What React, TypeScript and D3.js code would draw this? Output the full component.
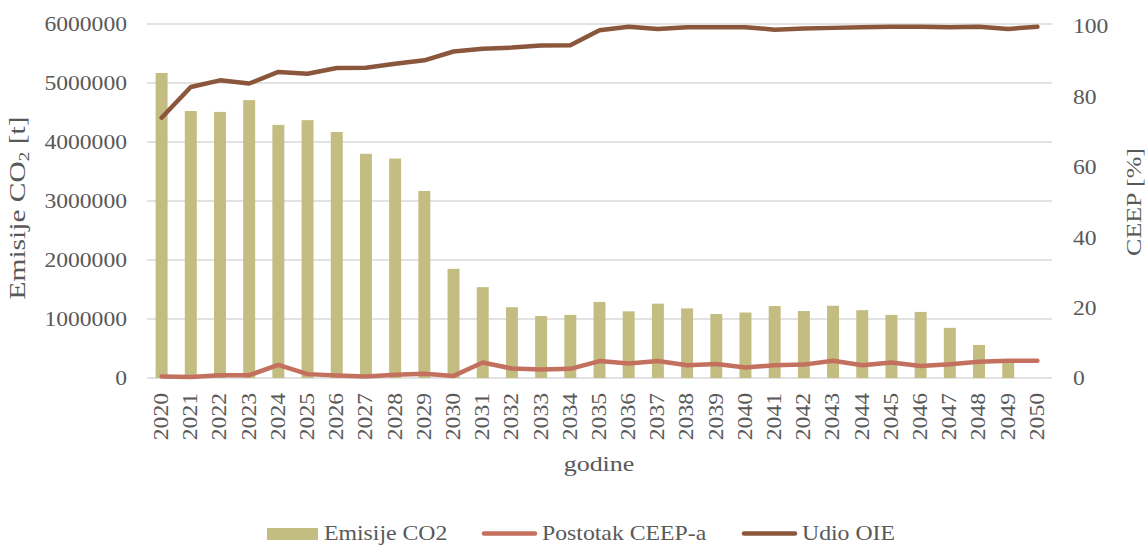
import React, { useRef, useEffect } from 'react';
import * as d3 from 'd3';

const years = d3.range(2020, 2051).map(String);

// Emisije CO2 [t]
const emissions = [
  5170000, 4525000, 4510000, 4710000, 4290000, 4370000, 4170000, 3800000, 3720000, 3170000,
  1850000, 1540000, 1200000, 1050000, 1070000, 1290000, 1130000, 1260000, 1180000, 1085000,
  1110000, 1220000, 1135000, 1225000, 1150000, 1070000, 1120000, 850000, 560000, 300000, 0,
];

// Postotak CEEP-a [%]
const ceep = [
  0.4, 0.3, 0.8, 0.8, 3.7, 1.1, 0.7, 0.4, 0.9, 1.2,
  0.6, 4.4, 2.7, 2.4, 2.6, 4.8, 4.1, 4.8, 3.6, 4.0,
  3.0, 3.6, 3.8, 4.9, 3.6, 4.4, 3.4, 3.9, 4.6, 4.9, 4.9,
];

// Udio OIE [%]
const oie = [
  73.9, 82.6, 84.5, 83.6, 86.9, 86.4, 88.0, 88.1, 89.2, 90.2,
  92.7, 93.5, 93.8, 94.4, 94.5, 98.7, 99.7, 99.1, 99.6, 99.6,
  99.6, 98.9, 99.2, 99.4, 99.6, 99.7, 99.7, 99.6, 99.7, 99.1, 99.7,
];

const leftTicks = [0, 1000000, 2000000, 3000000, 4000000, 5000000, 6000000];
const rightTicks = [0, 20, 40, 60, 80, 100];

const legendItems = [
  { label: 'Emisije CO2', kind: 'bar', color: '#c4bd82' },
  { label: 'Postotak CEEP-a', kind: 'line', color: '#c3705e' },
  { label: 'Udio OIE', kind: 'line', color: '#8b573c' },
];

const W = 1148;
const H = 546;
const SX = 1.18; // horizontal stretch of the serif text
const FONT = '"Liberation Serif", "Times New Roman", serif';
const TXT = '#595959';

export default function App() {
  const ref = useRef<SVGSVGElement>(null);

  useEffect(() => {
    if (!ref.current) return;
    draw(ref.current);
  }, []);

  return (
    <svg
      ref={ref}
      width={W}
      height={H}
      style={{ position: 'absolute', left: 0, top: 0, background: '#fff' }}
    />
  );
}

function draw(el: SVGSVGElement) {
  const svg = d3.select(el);
  svg.selectAll('*').remove();
  svg.attr('font-family', FONT);

  const left = 147, right = 1052, top = 24, bottom = 378;

  const x = d3.scaleBand().domain(years).range([left, right]).paddingInner(0.59).paddingOuter(0.295);
  const y = d3.scaleLinear().domain([0, 6000000]).range([bottom, top]);
  const y2 = d3.scaleLinear().domain([0, 100.5]).range([bottom, top]);
  const cx = (d: string) => x(d)! + x.bandwidth() / 2;

  // gridlines
  svg.append('g')
    .selectAll('line')
    .data(leftTicks)
    .join('line')
    .attr('x1', left)
    .attr('x2', right)
    .attr('y1', (d) => y(d))
    .attr('y2', (d) => y(d))
    .attr('stroke', '#d9d9d9')
    .attr('stroke-width', 1.5);

  // left tick labels
  svg.append('g')
    .selectAll('text')
    .data(leftTicks)
    .join('text')
    .attr('transform', (d) => `translate(127,${y(d) + 1}) scale(${SX},1)`)
    .attr('text-anchor', 'end')
    .attr('dominant-baseline', 'central')
    .attr('font-size', 20)
    .attr('fill', TXT)
    .text((d) => String(d));

  // right tick labels
  svg.append('g')
    .selectAll('text')
    .data(rightTicks)
    .join('text')
    .attr('transform', (d) => `translate(1073,${y2(d) + 1}) scale(${SX},1)`)
    .attr('dominant-baseline', 'central')
    .attr('font-size', 20)
    .attr('fill', TXT)
    .text((d) => String(d));

  // x tick labels
  svg.append('g')
    .selectAll('text')
    .data(years)
    .join('text')
    .attr('transform', (d) => `translate(${cx(d)},393) rotate(-90) scale(${SX},1)`)
    .attr('text-anchor', 'end')
    .attr('dominant-baseline', 'central')
    .attr('font-size', 20)
    .attr('fill', TXT)
    .text((d) => d);

  // bars
  svg.append('g')
    .selectAll('rect')
    .data(years)
    .join('rect')
    .attr('x', (d) => x(d)!)
    .attr('y', (_, i) => y(emissions[i]))
    .attr('width', x.bandwidth())
    .attr('height', (_, i) => bottom - y(emissions[i]))
    .attr('fill', '#c4bd82');

  // lines
  const line = d3.line<number>()
    .x((_, i) => cx(years[i]))
    .y((d) => y2(d));

  svg.append('path')
    .attr('d', line(ceep))
    .attr('fill', 'none')
    .attr('stroke', '#c3705e')
    .attr('stroke-width', 4.5)
    .attr('stroke-linejoin', 'round')
    .attr('stroke-linecap', 'round');

  svg.append('path')
    .attr('d', line(oie))
    .attr('fill', 'none')
    .attr('stroke', '#8b573c')
    .attr('stroke-width', 4.5)
    .attr('stroke-linejoin', 'round')
    .attr('stroke-linecap', 'round');

  // axis titles
  const lt = svg.append('text')
    .attr('transform', `translate(25,208) rotate(-90) scale(1.28,1)`)
    .attr('text-anchor', 'middle')
    .attr('font-size', 23)
    .attr('fill', TXT);
  lt.append('tspan').text('Emisije CO');
  lt.append('tspan').attr('font-size', 15).attr('dy', 4).text('2');
  lt.append('tspan').attr('dy', -4).text(' [t]');

  svg.append('text')
    .attr('transform', `translate(1141,202) rotate(-90) scale(${SX},1)`)
    .attr('text-anchor', 'middle')
    .attr('font-size', 22)
    .attr('fill', TXT)
    .text('CEEP [%]');

  svg.append('text')
    .attr('transform', `translate(599,471) scale(${SX},1)`)
    .attr('text-anchor', 'middle')
    .attr('font-size', 22)
    .attr('fill', TXT)
    .text('godine');

  // legend
  const legendX = [267, 482, 742];
  const lg = svg.append('g');
  legendItems.forEach((item, i) => {
    const x0 = legendX[i];
    if (item.kind === 'bar') {
      lg.append('rect')
        .attr('x', x0).attr('y', 528).attr('width', 51).attr('height', 12)
        .attr('fill', item.color);
    } else {
      lg.append('line')
        .attr('x1', x0 + 2).attr('x2', x0 + 53).attr('y1', 533.5).attr('y2', 533.5)
        .attr('stroke', item.color).attr('stroke-width', 4.5).attr('stroke-linecap', 'round');
    }
    lg.append('text')
      .attr('transform', `translate(${x0 + (item.kind === 'bar' ? 57 : 60)},540) scale(1.08,1)`)
      .attr('font-size', 22)
      .attr('fill', TXT)
      .text(item.label);
  });
}
